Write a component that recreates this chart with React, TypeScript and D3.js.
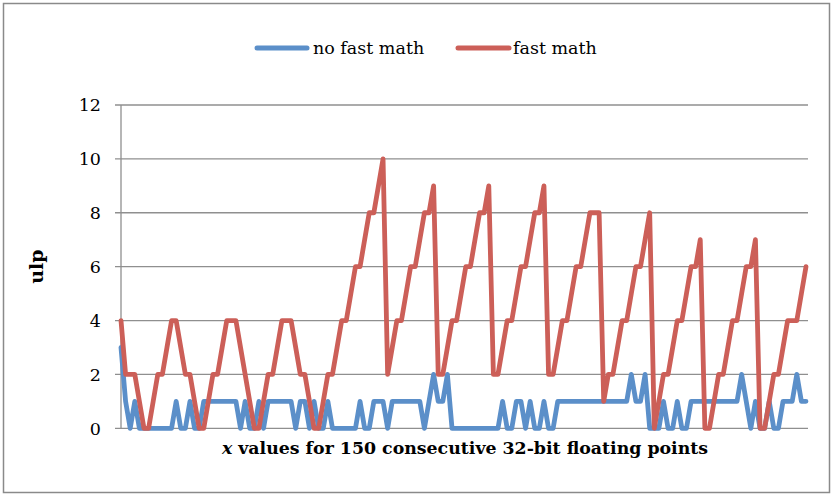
import React from "react";
import * as d3 from "d3";

// ulp error for 150 consecutive 32-bit floats
const noFastMath: number[] = [
  3, 1, 0, 1, 0, 0, 0, 0, 0, 0,
  0, 0, 1, 0, 0, 1, 0, 0, 1, 1,
  1, 1, 1, 1, 1, 1, 0, 1, 0, 0,
  1, 0, 1, 1, 1, 1, 1, 1, 0, 1,
  1, 0, 1, 0, 0, 1, 0, 0, 0, 0,
  0, 0, 1, 0, 0, 1, 1, 1, 0, 1,
  1, 1, 1, 1, 1, 1, 0, 1, 2, 1,
  1, 2, 0, 0, 0, 0, 0, 0, 0, 0,
  0, 0, 0, 1, 0, 0, 1, 1, 0, 1,
  0, 0, 1, 0, 0, 1, 1, 1, 1, 1,
  1, 1, 1, 1, 1, 1, 1, 1, 1, 1,
  1, 2, 1, 1, 2, 0, 0, 0, 1, 0,
  0, 1, 0, 0, 1, 1, 1, 1, 1, 1,
  1, 1, 1, 1, 1, 2, 1, 0, 1, 0,
  0, 1, 0, 0, 1, 1, 1, 2, 1, 1,
];

const fastMath: number[] = [
  4, 2, 2, 2, 1, 0, 0, 1, 2, 2,
  3, 4, 4, 3, 2, 2, 1, 0, 0, 1,
  2, 2, 3, 4, 4, 4, 3, 2, 1, 0,
  0, 1, 2, 2, 3, 4, 4, 4, 3, 2,
  2, 1, 0, 0, 1, 2, 2, 3, 4, 4,
  5, 6, 6, 7, 8, 8, 9, 10, 2, 3,
  4, 4, 5, 6, 6, 7, 8, 8, 9, 2,
  2, 3, 4, 4, 5, 6, 6, 7, 8, 8,
  9, 2, 2, 3, 4, 4, 5, 6, 6, 7,
  8, 8, 9, 2, 2, 3, 4, 4, 5, 6,
  6, 7, 8, 8, 8, 1, 2, 2, 3, 4,
  4, 5, 6, 6, 7, 8, 0, 1, 2, 2,
  3, 4, 4, 5, 6, 6, 7, 0, 0, 1,
  2, 2, 3, 4, 4, 5, 6, 6, 7, 0,
  0, 1, 2, 2, 3, 4, 4, 4, 5, 6,
];

const yTicks: number[] = [0, 2, 4, 6, 8, 10, 12];
const seriesNames: string[] = ["no fast math", "fast math"];
const seriesColors: string[] = ["#5B8FC9", "#CC5F58"];
const yTitle = "ulp";
const xTitleItalic = "x";
const xTitleRest = " values for 150 consecutive 32-bit floating points";

export default function App() {
  const W = 833;
  const H = 495;
  const left = 121;
  const right = 806;
  const top = 105;
  const bottom = 428.3;
  const font = "'DejaVu Serif', 'Liberation Serif', serif";

  const x = d3.scaleLinear().domain([0, noFastMath.length - 1]).range([left, right]);
  const y = d3.scaleLinear().domain([0, 12]).range([bottom, top]);
  const line = d3
    .line<number>()
    .x((_, i) => x(i))
    .y((d) => y(d));

  const series = [noFastMath, fastMath];

  return (
    <svg
      width={W}
      height={H}
      style={{ position: "absolute", left: 0, top: 0, background: "#fff" }}
    >
      <rect x={0} y={0} width={W} height={H} fill="#fff" />
      <rect x={3.5} y={3.5} width={826} height={489} fill="none" stroke="#8a8a8a" strokeWidth={1.5} />

      {/* gridlines */}
      {yTicks.map((t) => (
        <g key={t}>
          <line x1={left - 6} x2={808} y1={y(t)} y2={y(t)} stroke="#8f8f8f" strokeWidth={1.3} />
          <text
            x={101}
            y={y(t)}
            dy="0.36em"
            textAnchor="end"
            fontFamily={font}
            fontSize={17.5}
            fill="#000"
          >
            {t}
          </text>
        </g>
      ))}
      <line x1={left} x2={left} y1={top} y2={bottom} stroke="#8f8f8f" strokeWidth={1.3} />

      {/* series: blue first, red on top */}
      {series.map((s, k) => (
        <path
          key={k}
          d={line(s) || ""}
          fill="none"
          stroke={seriesColors[k]}
          strokeWidth={4.8}
          strokeLinejoin="round"
          strokeLinecap="round"
        />
      ))}

      {/* legend */}
      <g fontFamily={font} fontSize={17.5} fill="#000">
        <line x1={257} x2={307} y1={48} y2={48} stroke={seriesColors[0]} strokeWidth={5} strokeLinecap="round" />
        <text x={313} y={54}>{seriesNames[0]}</text>
        <line x1={458} x2={509} y1={48} y2={48} stroke={seriesColors[1]} strokeWidth={5} strokeLinecap="round" />
        <text x={513} y={54}>{seriesNames[1]}</text>
      </g>

      {/* axis titles */}
      <text
        transform={`translate(43, ${(top + bottom) / 2}) rotate(-90)`}
        textAnchor="middle"
        fontFamily={font}
        fontWeight="bold"
        fontSize={19}
      >
        {yTitle}
      </text>
      <text
        x={(left + right) / 2 + 1.5}
        y={453.5}
        textAnchor="middle"
        fontFamily={font}
        fontWeight="bold"
        fontSize={17.35}
      >
        <tspan fontStyle="italic">{xTitleItalic}</tspan>
        {xTitleRest}
      </text>
    </svg>
  );
}
